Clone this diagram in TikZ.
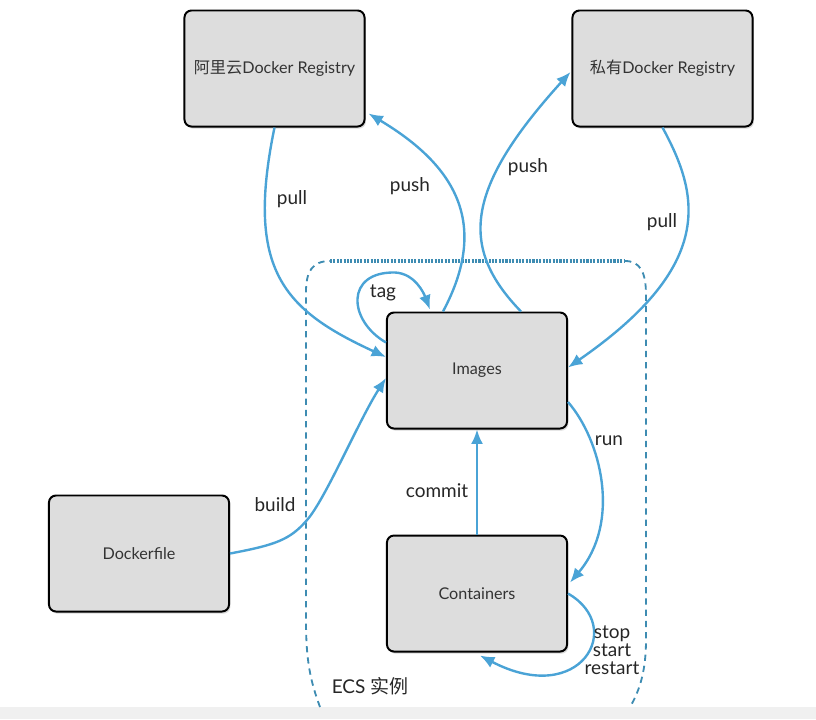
\documentclass[tikz,border=0pt]{standalone}
\usepackage{fontspec}
\setmainfont{Lato}
\newfontfamily\cjk{Noto Sans CJK SC}
\usepackage{tikz}
\usetikzlibrary{arrows.meta,positioning,shadows}

\definecolor{arrowblue}{RGB}{74,163,214}
\definecolor{ecsblue}{RGB}{62,140,178}
\definecolor{boxgray}{RGB}{221,221,221}

\begin{document}
\begin{tikzpicture}[
  x=0.025cm, y=-0.025cm,
  font=\fontsize{11.5}{13}\selectfont,
  box/.style={draw=black, fill=boxgray, text=black!80, rounded corners=5pt, line width=1.4pt, minimum width=4.5cm, minimum height=2.9cm, align=center, drop shadow={shadow xshift=1pt, shadow yshift=-1.5pt, opacity=0.3}},
  line/.style={-{Latex[length=3.6mm,width=3mm]}, draw=arrowblue, line width=1.7pt},
  lbl/.style={font=\fontsize{13.5}{13}\selectfont, text=black!85, inner sep=1pt, align=center},
  ecsframe/.style={draw=ecsblue, line width=1.3pt, dash pattern=on 4.5pt off 3.5pt},
  ecstop/.style={ecsframe, line width=2.6pt, dash pattern=on 1.5pt off 0.9pt}
]
\useasboundingbox (0,0) rectangle (816,719);
\fill[black!6] (0,707) rectangle (816,719);

% ECS frame
\draw[ecsframe] (320,707) .. controls (310,680) and (306,660) .. (306,620) -- (306,292) .. controls (306,272) and (312,261) .. (330,261);
\draw[ecstop] (330,261) -- (625,261);
\draw[ecsframe] (625,261) .. controls (640,261) and (646,272) .. (646,295) -- (646,640) .. controls (646,670) and (640,690) .. (630,707);
\node[lbl] (ecs) at (370,686) {ECS {\cjk 实例}};

\node[box] (aliyun) at (274.5,68.5) {{\cjk 阿里云}Docker Registry};
\node[box] (siyou) at (662.5,68.5) {{\cjk 私有}Docker Registry};
\node[box] (images) at (477,370.5) {Images};
\node[box, below=2.625cm of images] (containers) {Containers};
\node[box] (dockerfile) at (139,553.5) {Dockerfile};

\draw[line] (aliyun.south) .. controls +(-29.5,143) and +(-102,-47) .. ([shift={(0,-13.5)}]images.west);
\draw[line] ([shift={(-34,0)}]images.north) .. controls +(47,-88) and +(87,52) .. ([shift={(3,-14)}]aliyun.south east);
\draw[line] ([shift={(44,0)}]images.north) .. controls +(-61,-63) and +(-107,118) .. ([shift={(-1,3.5)}]siyou.west);
\draw[line] (siyou.south) .. controls +(37,68) and +(148,-102.5) .. ([shift={(0,-3)}]images.east);
\draw[line] ([shift={(0,-28)}]images.west) .. controls +(-38,-22) and +(-50,-1) .. ([shift={(-82,-98)}]images.center) .. controls +(20,1) and +(-6,-16) .. ([shift={(44,-2)}]images.north west);
\draw[line] (dockerfile.east) .. controls +(45,-8.5) and +(-17,20) .. ([shift={(168,-33.5)}]dockerfile.center) .. controls +(18,-20) and +(-27,42) .. ([shift={(0,7.5)}]images.west);
\draw[line] (containers.north) -- (images.south);
\draw[line] ([shift={(0,31.5)}]images.east) .. controls +(33,38) and +(51.5,-60.5) .. ([shift={(2,-11)}]containers.east);
\draw[line] (containers.east) .. controls +(58.5,33.5) and +(100.5,52.5) .. ([shift={(3,3)}]containers.south);

\node[lbl] (pullL) at (292,199) {pull};
\node[lbl] (pushL) at (410,186) {push};
\node[lbl] (pushR) at (528,167) {push};
\node[lbl] (pullR) at (662,222) {pull};
\node[lbl] (tag) at (383,293) {tag};
\node[lbl] (build) at (275,505) {build};
\node[lbl] (commit) at (437,491) {commit};
\node[lbl] (run) at (609,441) {run};
\node[lbl, font=\fontsize{13.5}{12.8}\selectfont] (restart) at (612,650) {stop\\start\\restart};
\end{tikzpicture}
\end{document}
